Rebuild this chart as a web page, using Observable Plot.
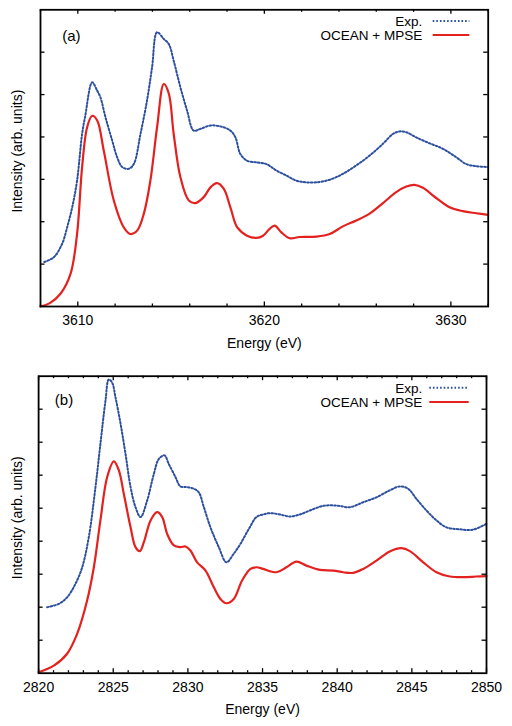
<!DOCTYPE html>
<html><head><meta charset="utf-8">
<script src="https://cdn.jsdelivr.net/npm/d3@7"></script>
<script src="https://cdn.jsdelivr.net/npm/@observablehq/plot@0.6"></script>
<style>
body{margin:0;background:#fff;}
#chart{position:relative;width:512px;height:726px;overflow:hidden;}
#chart svg{position:absolute;left:0;}
</style>
</head><body><div id="chart"></div>
<script>
// Panel (a): energies (eV) and intensities (arb. units)
const aExpE = [3608.2,3608.71,3609.16,3609.43,3609.70,3609.96,3610.23,3610.4,3610.77,3611.04,3611.21,3611.48,3611.84,3612.11,3612.38,3612.73,3613.0,3613.36,3613.71,3613.98,3614.25,3614.61,3614.88,3615.14,3615.5,3615.86,3616.21,3616.57,3617.11,3617.64,3618.18,3618.45,3618.71,3619.07,3619.57,3620.11,3620.64,3621.18,3621.71,3622.25,3622.79,3623.5,3624.21,3624.93,3625.64,3626.36,3626.89,3627.25,3627.61,3628.14,3628.86,3629.57,3630.29,3630.82,3631.36,3632.0];
const aExpI = [1.05,1.16,1.48,1.87,2.34,2.97,4.07,4.5,5.29,5.09,4.94,4.47,3.92,3.52,3.29,3.25,3.36,4.07,4.86,5.64,6.47,6.31,6.19,5.80,5.17,4.62,4.15,4.19,4.27,4.25,4.15,3.99,3.60,3.44,3.40,3.36,3.21,3.09,2.97,2.93,2.93,2.99,3.13,3.33,3.56,3.84,4.07,4.13,4.11,3.99,3.85,3.72,3.52,3.36,3.31,3.29];
const aCalcE = [3608.0,3608.5,3609.07,3609.61,3609.96,3610.23,3610.5,3610.77,3611.04,3611.39,3611.93,3612.46,3612.82,3613.18,3613.54,3613.89,3614.25,3614.61,3614.88,3615.14,3615.5,3615.95,3616.30,3616.75,3617.11,3617.46,3617.82,3618.18,3618.54,3619.07,3619.57,3619.93,3620.28,3620.55,3620.91,3621.36,3621.89,3622.79,3623.5,3624.21,3624.93,3625.64,3626.36,3627.07,3627.61,3628.05,3628.5,3629.21,3629.93,3630.64,3631.36,3632.0];
const aCalcI = [0.00,0.08,0.30,0.77,1.71,3.29,4.23,4.50,4.39,3.68,2.50,1.87,1.71,1.79,2.19,2.97,4.23,5.25,5.02,4.07,3.05,2.50,2.44,2.58,2.81,2.91,2.78,2.34,1.87,1.67,1.62,1.67,1.83,1.91,1.75,1.61,1.64,1.65,1.71,1.89,2.03,2.19,2.44,2.70,2.83,2.87,2.80,2.56,2.34,2.25,2.20,2.16];

// Panel (b)
const bExpE = [2820.57,2821.35,2821.91,2822.47,2822.92,2823.36,2823.81,2824.14,2824.48,2824.70,2824.93,2825.15,2825.49,2825.82,2826.16,2826.49,2826.83,2827.27,2827.72,2828.05,2828.43,2828.72,2829.17,2829.5,2829.95,2830.39,2830.73,2831.07,2831.51,2832.07,2832.58,2833.07,2833.52,2834.08,2834.59,2835.04,2835.49,2836.16,2836.83,2837.5,2838.17,2839.06,2839.96,2840.85,2841.74,2842.63,2843.52,2844.19,2844.75,2845.31,2845.98,2846.65,2847.32,2848.21,2849.11,2850.0];
const bExpI = [2.0,2.10,2.30,2.71,3.21,4.12,5.64,6.95,8.26,8.9,8.8,8.36,7.56,6.65,5.64,5.03,4.73,5.23,6.04,6.49,6.60,6.34,5.94,5.66,5.64,5.59,5.48,5.03,4.42,3.82,3.36,3.62,3.92,4.37,4.73,4.81,4.85,4.81,4.75,4.81,4.93,5.07,5.08,5.03,5.18,5.33,5.54,5.66,5.59,5.28,4.93,4.63,4.42,4.36,4.35,4.53];
const bCalcE = [2820.0,2821.02,2821.91,2822.58,2823.25,2823.7,2824.14,2824.59,2825.04,2825.38,2825.71,2826.16,2826.49,2826.78,2827.05,2827.5,2827.94,2828.28,2828.61,2829.06,2829.5,2829.84,2830.17,2830.62,2831.18,2831.73,2832.18,2832.58,2833.07,2833.63,2834.19,2834.6,2835.04,2835.93,2836.6,2837.27,2837.94,2838.84,2839.73,2840.4,2841.07,2841.74,2842.63,2843.52,2844.31,2844.87,2845.76,2846.65,2847.55,2848.44,2849.33,2850.0];
const bCalcI = [0.03,0.23,0.59,1.19,2.20,3.21,4.63,5.94,6.42,6.14,5.43,4.42,3.82,3.70,3.97,4.63,4.88,4.73,4.22,3.87,3.82,3.84,3.72,3.36,3.11,2.61,2.25,2.12,2.25,2.81,3.16,3.21,3.16,3.06,3.21,3.38,3.26,3.13,3.11,3.06,3.04,3.16,3.41,3.69,3.79,3.70,3.36,3.06,2.93,2.91,2.93,2.94];

// Axis ticks and labels
const aDomain = [3608, 3632], aMajor = [3610, 3620, 3630], aMinor = d3.range(3608, 3633, 2), aYMax = 7;
const bDomain = [2820, 2850], bMajor = [2820, 2825, 2830, 2835, 2840, 2845, 2850], bMinor = d3.range(2820, 2851, 1), bYMax = 9;
const seriesNames = ["Exp.", "OCEAN + MPSE"];
const xLabel = "Energy (eV)", yLabel = "Intensity (arb. units)";
const panelTags = ["(a)", "(b)"];

const FONT = "'Liberation Sans', Arial, Helvetica, sans-serif";
const BLUE = "#2c4f9e", RED = "#e3211f";
const DOTS = "1.6,2";

function zip(E, I) { return E.map((e, i) => ({e, v: I[i]})); }

function panel(o) {
  const iw = 512 - o.ml - o.mr, ih = o.h - o.mt - o.mb;
  const major = 4.5, minor = 2.5, ytl = 4.5;
  const majorSet = new Set(o.major);
  const minorOnly = o.minor.filter(t => !majorSet.has(t));
  const yt = d3.range(1, o.yMax);
  const legend = (index, scales, values, dims) => {
    const g = d3.create("svg:g");
    const xr = dims.width - dims.marginRight;
    [[o.leg1, BLUE, DOTS], [o.leg2, RED, null]].forEach(([dy, c, dash]) => {
      const l = g.append("line").attr("x1", xr + o.lx1).attr("x2", xr + o.lx2)
        .attr("y1", dims.marginTop + dy).attr("y2", dims.marginTop + dy)
        .attr("stroke", c).attr("stroke-width", 2);
      if (dash) l.attr("stroke-dasharray", dash);
    });
    return g.node();
  };
  const txt = {fill: "#000", lineAnchor: "middle"};
  return Plot.plot({
    width: 512, height: o.h,
    marginTop: o.mt, marginBottom: o.mb, marginLeft: o.ml, marginRight: o.mr,
    style: {fontFamily: FONT, background: "transparent", color: "#000"},
    x: {domain: o.xDomain, axis: null},
    y: {domain: [0, o.yMax], axis: null},
    marks: [
      Plot.line(zip(o.expE, o.expI), {x: "e", y: "v", stroke: BLUE, strokeWidth: 2, strokeDasharray: DOTS, curve: "catmull-rom"}),
      Plot.line(zip(o.calcE, o.calcI), {x: "e", y: "v", stroke: RED, strokeWidth: 2.2, curve: "catmull-rom"}),
      Plot.tickX(o.major, {x: d => d, insetTop: ih - major, stroke: "#000", strokeWidth: 1.3}),
      Plot.tickX(o.major, {x: d => d, insetBottom: ih - major, stroke: "#000", strokeWidth: 1.3}),
      Plot.tickX(minorOnly, {x: d => d, insetTop: ih - minor, stroke: "#000", strokeWidth: 1.3}),
      Plot.tickX(minorOnly, {x: d => d, insetBottom: ih - minor, stroke: "#000", strokeWidth: 1.3}),
      Plot.tickY(yt, {y: d => d, insetRight: iw - ytl, stroke: "#000", strokeWidth: 1.3}),
      Plot.tickY(yt, {y: d => d, insetLeft: iw - ytl, stroke: "#000", strokeWidth: 1.3}),
      Plot.frame({stroke: "#000", strokeWidth: 1.8}),
      Plot.axisX(o.major, {tickSize: 0, tickPadding: 9, fontSize: 14, label: null, tickFormat: d => String(d)}),
      Plot.text([xLabel], {...txt, text: d => d, frameAnchor: "bottom", dy: o.xlDy, fontSize: 14}),
      Plot.text([yLabel], {...txt, text: d => d, frameAnchor: "left", textAnchor: "middle", dx: o.ylDx, dy: -7, rotate: -90, fontSize: 14}),
      Plot.text([o.tag], {...txt, text: d => d, frameAnchor: "top-left", dx: o.tagDx, dy: o.tagDy, textAnchor: "start", fontSize: 15}),
      Plot.text([seriesNames[0]], {...txt, text: d => d, frameAnchor: "top-right", dx: o.tx, dy: o.leg1, textAnchor: "end", fontSize: 13.5}),
      Plot.text([seriesNames[1]], {...txt, text: d => d, frameAnchor: "top-right", dx: o.tx, dy: o.leg2, textAnchor: "end", fontSize: 13.5}),
      legend
    ]
  });
}

const svgA = panel({h: 355, mt: 9.3, mb: 49, ml: 40, mr: 24.3, xDomain: aDomain, yMax: aYMax,
  major: aMajor, minor: aMinor, expE: aExpE, expI: aExpI, calcE: aCalcE, calcI: aCalcI,
  tag: panelTags[0], tagDx: 21.7, tagDy: 26.4, tx: -66, lx1: -55, lx2: -18.4, leg1: 11.8, leg2: 25.6,
  xlDy: 37.3, ylDx: -22.7});
const svgB = panel({h: 371, mt: 20.7, mb: 53.3, ml: 38.1, mr: 26, xDomain: bDomain, yMax: bYMax,
  major: bMajor, minor: bMinor, expE: bExpE, expI: bExpI, calcE: bCalcE, calcI: bCalcI,
  tag: panelTags[1], tagDx: 16.2, tagDy: 24.3, tx: -64.3, lx1: -56.7, lx2: -17.3, leg1: 12, leg2: 26.2,
  xlDy: 36, ylDx: -21});
svgA.style.top = "0px";
svgB.style.top = "355px";
document.getElementById("chart").append(svgA, svgB);
</script>
</body></html>
